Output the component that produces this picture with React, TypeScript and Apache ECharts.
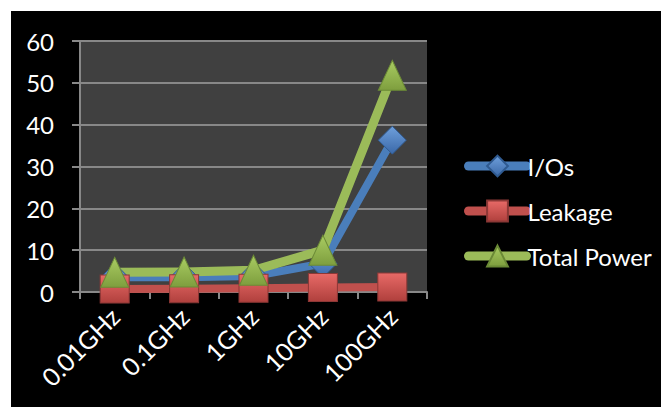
import React, { useEffect, useRef } from "react";
import * as echarts from "echarts";

const categories = ["0.01GHz", "0.1GHz", "1GHz", "10GHz", "100GHz"];
const ioValues = [3.5, 3.5, 3.8, 6.8, 36.3];
const leakageValues = [0.7, 0.8, 0.9, 1.1, 1.2];
const totalValues = [4.7, 4.8, 5.2, 10.0, 51.8];
const seriesNames = ["I/Os", "Leakage", "Total Power"];

const FONT = "Lato";

function grad(top: string, bottom: string) {
  return new echarts.graphic.LinearGradient(0, 0, 0, 1, [
    { offset: 0, color: top },
    { offset: 1, color: bottom },
  ]);
}

export default function App() {
  const ref = useRef<HTMLDivElement>(null);
  useEffect(() => {
    if (!ref.current) return;
    const chart = echarts.init(ref.current, undefined, { renderer: "svg" });
    chart.setOption({
      animation: false,
      backgroundColor: "#000000",
      textStyle: { fontFamily: FONT },
      grid: {
        left: 69,
        right: 242,
        top: 30,
        bottom: 115,
        show: true,
        backgroundColor: "#404040",
        borderWidth: 0,
      },
      legend: {
        orient: "vertical",
        left: 448,
        top: 138,
        itemWidth: 58,
        itemHeight: 26,
        itemGap: 21,
        data: seriesNames,
        lineStyle: { width: 9, cap: "round" },
        textStyle: { color: "#ffffff", fontSize: 24, fontFamily: FONT, padding: [0, 0, 0, -4] },
      },
      xAxis: {
        type: "category",
        data: categories,
        boundaryGap: true,
        axisLine: { show: true, lineStyle: { color: "#888888", width: 2 } },
        axisTick: { show: true, length: 7, inside: false, lineStyle: { color: "#888888", width: 2 } },
        axisLabel: { color: "#ffffff", fontSize: 25, rotate: 45, margin: 20, fontFamily: FONT },
        splitLine: { show: false },
      },
      yAxis: {
        type: "value",
        min: 0,
        max: 60,
        interval: 10,
        axisLine: { show: true, lineStyle: { color: "#888888", width: 2 } },
        axisTick: { show: true, length: 8, lineStyle: { color: "#888888", width: 2 } },
        axisLabel: { color: "#ffffff", fontSize: 24, margin: 26, fontFamily: FONT },
        splitLine: { show: true, lineStyle: { color: "#888888", width: 2 } },
      },
      series: [
        {
          name: seriesNames[0],
          type: "line",
          data: ioValues,
          symbol: "diamond",
          symbolSize: [28, 28],
          lineStyle: { color: "#4A7EBB", width: 8, cap: "round", join: "round" },
          itemStyle: { color: grad("#6FA0DC", "#3A68A8"), borderColor: "#2F5A90", borderWidth: 1 },
        },
        {
          name: seriesNames[1],
          type: "line",
          data: leakageValues,
          symbol: "rect",
          symbolSize: [29, 28],
          lineStyle: { color: "#C0504D", width: 8, cap: "round", join: "round" },
          itemStyle: { color: grad("#E86A67", "#B0403D"), borderColor: "#8C3836", borderWidth: 1 },
        },
        {
          name: seriesNames[2],
          type: "line",
          data: totalValues,
          symbol: "triangle",
          symbolSize: [28, 30],
          lineStyle: { color: "#9BBB59", width: 9, cap: "round", join: "round" },
          itemStyle: { color: grad("#A9CC62", "#7E9E3E"), borderColor: "#6B8A36", borderWidth: 1 },
        },
      ],
    });
    return () => chart.dispose();
  }, []);
  return (
    <div style={{ marginLeft: 3, marginTop: 3 }}>
      <div ref={ref} style={{ width: 658, height: 396 }} />
    </div>
  );
}
